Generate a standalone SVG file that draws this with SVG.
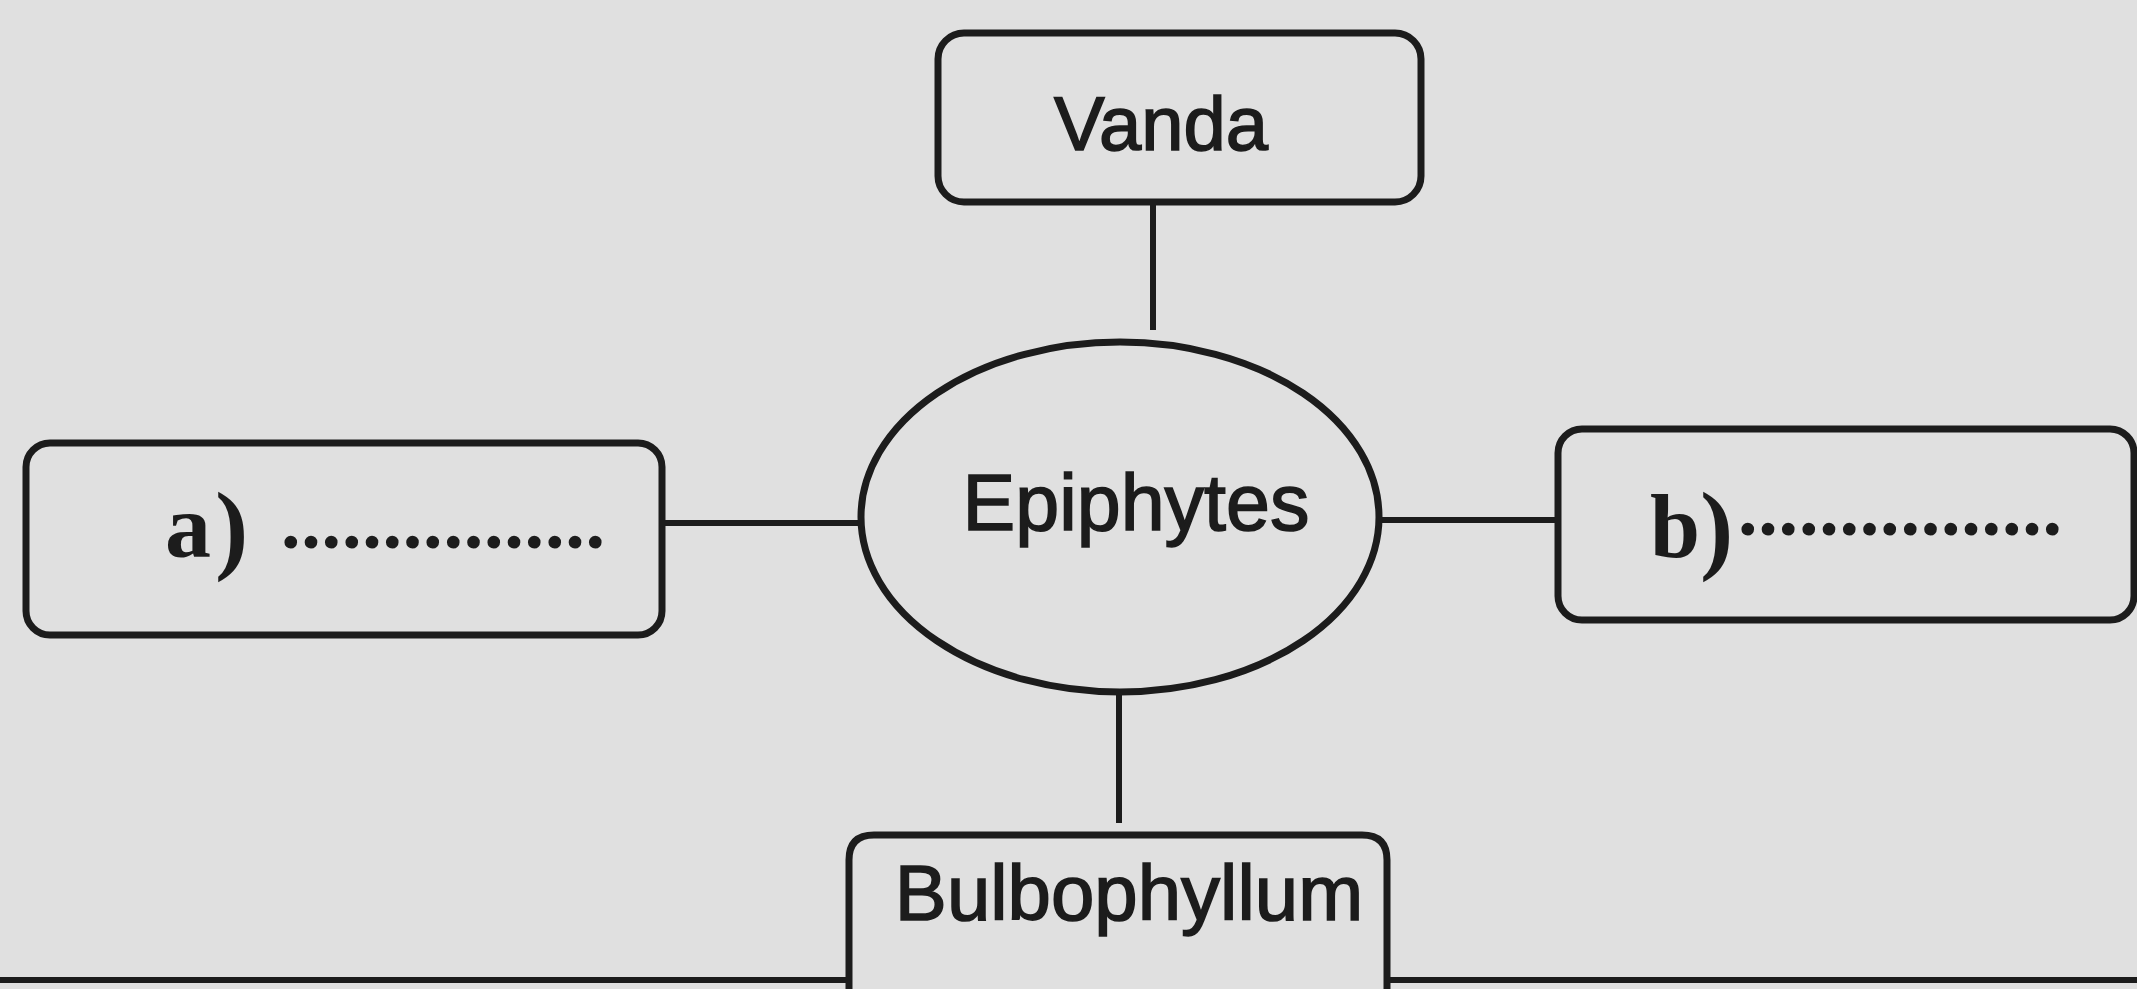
<svg xmlns="http://www.w3.org/2000/svg" width="2137" height="989" viewBox="0 0 2137 989">
  <style>
    .box { fill: none; stroke: #1c1c1c; stroke-width: 7; }
    .conn { stroke: #1c1c1c; stroke-width: 6; fill: none; }
    .sans { font-family: "Liberation Sans", Arial, sans-serif; fill: #1c1c1c; stroke: #1c1c1c; stroke-width: 1.6; text-anchor: middle; }
    .serif { font-family: "Liberation Serif", "Times New Roman", serif; font-weight: bold; fill: #1c1c1c; }
    .dots { font-family: "Liberation Serif", "Times New Roman", serif; font-weight: bold; fill: #1c1c1c; }
  </style>
  <rect x="0" y="0" width="2137" height="989" fill="#e0e0e0"/>
  <g id="connectors">
    <line class="conn" x1="1153" y1="202" x2="1153" y2="330"/>
    <line class="conn" x1="661" y1="523" x2="862" y2="523"/>
    <line class="conn" x1="1380" y1="520" x2="1558" y2="520"/>
    <line class="conn" x1="1119" y1="690" x2="1119" y2="823"/>
  </g>
  <g id="node-vanda">
    <rect class="box" x="938" y="33" width="483" height="169" rx="26"/>
    <text class="sans" x="1161" y="150" font-size="76">Vanda</text>
  </g>
  <g id="node-epiphytes">
    <ellipse class="box" cx="1120" cy="517" rx="259" ry="175"/>
    <text class="sans" x="1136" y="530" font-size="79">Epiphytes</text>
  </g>
  <g id="node-a">
    <rect class="box" x="26" y="443" width="636" height="192" rx="24"/>
    <text class="serif" x="165" y="557" font-size="92">a<tspan font-size="100" dx="4" dy="4">)</tspan></text>
    <text class="dots" x="281" y="548" font-size="78" textLength="324" lengthAdjust="spacing">................</text>
  </g>
  <g id="node-b">
    <rect class="box" x="1558" y="429" width="576" height="191" rx="24"/>
    <text class="serif" x="1650" y="557" font-size="90">b<tspan font-size="100" dy="4">)</tspan></text>
    <text class="dots" x="1738" y="535" font-size="78" textLength="324" lengthAdjust="spacing">................</text>
  </g>
  <g id="node-bulbophyllum">
    <path class="box" d="M849,995 V860 Q849,835 874,835 H1362 Q1387,835 1387,860 V995"/>
    <text class="sans" x="1129" y="920" font-size="78">Bulbophyllum</text>
  </g>
  <g id="baseline">
    <line class="conn" stroke-width="8" x1="0" y1="980" x2="849" y2="980"/>
    <line class="conn" stroke-width="8" x1="1387" y1="980" x2="2137" y2="980"/>
  </g>
</svg>
